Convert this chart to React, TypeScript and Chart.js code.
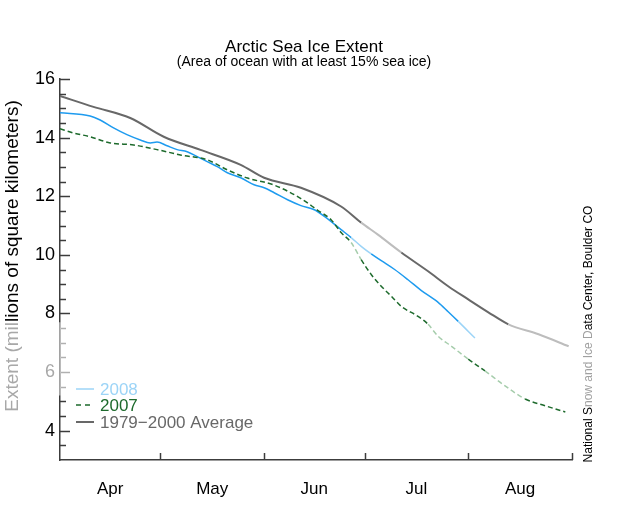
import React, { useEffect, useRef } from 'react';
import { Chart, registerables } from 'chart.js';

Chart.register(...registerables);

// Day index 0 = April 1
const monthNames = ['Apr', 'May', 'Jun', 'Jul', 'Aug'];
const monthStartDays = [0, 30, 61, 91, 122, 153];
const monthMidDays = [15, 45.5, 76, 106.5, 137.5];
const yTickValues = [4, 6, 8, 10, 12, 14, 16];

const avgDays = [0, 10, 21, 31, 42, 54, 61, 72, 84, 90, 95, 102, 110, 116, 122, 128, 134, 143, 152];
const avgValues = [15.42, 15.05, 14.67, 14.03, 13.58, 13.07, 12.63, 12.29, 11.65, 11.1, 10.69, 10.08, 9.44, 8.93, 8.48, 8.04, 7.63, 7.29, 6.88];

const days2008 = [0, 9, 12, 16, 20, 24, 27, 29, 32, 35, 38, 41, 44, 47, 50, 54, 58, 61, 64, 68, 72, 76, 79, 84, 87, 90, 93, 96, 100, 104, 108, 113, 116, 119, 124];
const values2008 = [14.85, 14.74, 14.6, 14.33, 14.1, 13.92, 13.82, 13.85, 13.72, 13.59, 13.52, 13.35, 13.18, 13.01, 12.8, 12.63, 12.39, 12.29, 12.12, 11.88, 11.68, 11.54, 11.31, 10.86, 10.59, 10.29, 10.03, 9.8, 9.5, 9.15, 8.78, 8.38, 8.06, 7.73, 7.16];

const days2007 = [0, 4, 9, 15, 22, 29, 36, 44, 50, 56, 64, 72, 77, 81, 84, 87, 90, 93, 96, 99, 102, 107, 110, 113, 117, 122, 127, 133, 139, 145, 151];
const values2007 = [14.3, 14.16, 14.03, 13.82, 13.75, 13.59, 13.41, 13.24, 12.9, 12.62, 12.38, 11.92, 11.52, 11.2, 10.76, 10.42, 9.84, 9.33, 8.93, 8.59, 8.24, 7.9, 7.63, 7.22, 6.88, 6.44, 6.04, 5.53, 5.08, 4.85, 4.64];

// faded (lighter) stretches of each line, in days
const avgFade = [[90, 102], [134, 200]];
const fade2008 = [[87, 93], [119, 200]];
const fade2007 = [[87, 90], [110, 122], [127, 139]];

const FONT = '"Liberation Sans", Arial, Helvetica, sans-serif';

const GRAY = '#686868';
const GRAY_L = '#bdbdbd';
const BLUE = '#1e9bef';
const BLUE_L = '#9cd4f7';
const GREEN = '#1d6a2c';
const GREEN_L = '#a6cdac';
const AXIS = '#3c3c3c';

const toPts = (d: number[], v: number[]) => d.map((x, i) => ({ x, y: v[i] }));
const faded = (ranges: number[][], dark: string, light: string) => (ctx: any) => {
  const x = ctx.p0.parsed.x;
  return ranges.some(([a, b]) => x >= a && x < b) ? light : dark;
};

const decor = {
  id: 'decor',
  afterDraw(chart: any) {
    const { ctx, chartArea: area } = chart;
    const xs = chart.scales.x;
    const ys = chart.scales.y;
    ctx.save();
    ctx.lineWidth = 1.5;
    // y ticks (inward)
    for (let v = 3.5; v <= 16.001; v += 0.5) {
      const py = Math.round(ys.getPixelForValue(v)) + 0.5;
      const major = Math.abs(v % 2) < 1e-6;
      ctx.strokeStyle = v > 5.2 && v < 7.7 ? '#b0b0b0' : AXIS;
      ctx.beginPath();
      ctx.moveTo(area.left, py);
      ctx.lineTo(area.left + (major ? 10 : 6), py);
      ctx.stroke();
    }
    // light part of y axis
    ctx.strokeStyle = '#c4c4c4';
    ctx.beginPath();
    ctx.moveTo(area.left, ys.getPixelForValue(7.7));
    ctx.lineTo(area.left, ys.getPixelForValue(5.2));
    ctx.stroke();
    // x ticks (inward)
    ctx.strokeStyle = AXIS;
    monthStartDays.slice(1).forEach((d) => {
      const px = Math.round(xs.getPixelForValue(d)) + 0.5;
      ctx.beginPath();
      ctx.moveTo(px, area.bottom);
      ctx.lineTo(px, area.bottom - 7);
      ctx.stroke();
    });

    // titles
    ctx.fillStyle = '#000';
    ctx.textAlign = 'center';
    ctx.textBaseline = 'middle';
    ctx.font = `17px ${FONT}`;
    ctx.fillText('Arctic Sea Ice Extent', 304, 47);
    ctx.font = `14px ${FONT}`;
    ctx.fillText('(Area of ocean with at least 15% sea ice)', 304, 62);

    // rotated, partly faded texts
    const drawParts = (parts: [string, string][], cx: number, cy: number, size: number) => {
      ctx.save();
      ctx.translate(cx, cy);
      ctx.rotate(-Math.PI / 2);
      ctx.font = `${size}px ${FONT}`;
      ctx.textAlign = 'left';
      ctx.textBaseline = 'middle';
      const total = parts.reduce((s, p) => s + ctx.measureText(p[0]).width, 0);
      let x0 = -total / 2;
      parts.forEach(([t, c]) => {
        ctx.fillStyle = c;
        ctx.fillText(t, x0, 0);
        x0 += ctx.measureText(t).width;
      });
      ctx.restore();
    };
    drawParts([['Extent (mil', '#a8a8a8'], ['lions of square kilometers)', '#000']], 13, 256, 19);
    drawParts([['National S', '#000'], ['now and Ice D', '#a0a0a0'], ['ata Center, Boulder CO', '#000']], 589, 334, 12);

    // legend
    const legend: [string, string, number[] | null, number][] = [
      ['2008', BLUE_L, null, 389],
      ['2007', GREEN, [5, 4], 405],
      ['1979\u22122000 Average', GRAY, null, 422],
    ];
    ctx.font = `17px ${FONT}`;
    ctx.textAlign = 'left';
    ctx.textBaseline = 'middle';
    legend.forEach(([label, color, dash, yy]) => {
      ctx.strokeStyle = color;
      ctx.lineWidth = label.startsWith('1979') ? 2 : 1.5;
      ctx.setLineDash(dash || []);
      ctx.beginPath();
      ctx.moveTo(76, yy);
      ctx.lineTo(94, yy);
      ctx.stroke();
      ctx.setLineDash([]);
      ctx.fillStyle = color;
      ctx.fillText(label, 100, yy + 1);
    });
    ctx.restore();
  },
};

export default function App() {
  const ref = useRef<HTMLCanvasElement | null>(null);
  useEffect(() => {
    if (!ref.current) return;
    const chart = new Chart(ref.current, {
      type: 'line',
      data: {
        datasets: [
          {
            label: '1979-2000 Average',
            data: toPts(avgDays, avgValues),
            borderColor: GRAY,
            borderWidth: 2,
            pointRadius: 0,
            cubicInterpolationMode: 'monotone',
            segment: { borderColor: faded(avgFade, GRAY, GRAY_L) },
          },
          {
            label: '2007',
            data: toPts(days2007, values2007),
            borderColor: GREEN,
            borderWidth: 1.5,
            borderDash: [5, 3],
            pointRadius: 0,
            cubicInterpolationMode: 'monotone',
            segment: { borderColor: faded(fade2007, GREEN, GREEN_L) },
          },
          {
            label: '2008',
            data: toPts(days2008, values2008),
            borderColor: BLUE,
            borderWidth: 1.5,
            pointRadius: 0,
            cubicInterpolationMode: 'monotone',
            segment: { borderColor: faded(fade2008, BLUE, BLUE_L) },
          },
        ],
      },
      options: {
        animation: false,
        responsive: false,
        layout: { padding: { top: 79, right: 68, left: 0, bottom: 0 } },
        plugins: { legend: { display: false }, tooltip: { enabled: false }, title: { display: false } },
        scales: {
          x: {
            type: 'linear',
            min: 0,
            max: 153,
            grid: { display: false, drawTicks: false },
            border: { display: true, color: AXIS, width: 1.5 },
            afterBuildTicks: (s: any) => {
              s.ticks = monthMidDays.map((v) => ({ value: v }));
            },
            afterFit: (s: any) => {
              s.height = 52;
            },
            ticks: {
              autoSkip: false,
              maxRotation: 0,
              padding: 19,
              color: '#000',
              font: { family: FONT, size: 17 },
              callback: (_v: any, i: number) => monthNames[i],
            },
          },
          y: {
            type: 'linear',
            min: 3,
            max: 16,
            grid: { display: false, drawTicks: false },
            border: { display: true, color: AXIS, width: 1.5 },
            afterBuildTicks: (s: any) => {
              s.ticks = yTickValues.map((v) => ({ value: v }));
            },
            afterFit: (s: any) => {
              s.width = 60;
            },
            ticks: {
              padding: 5,
              font: { family: FONT, size: 18 },
              color: (c: any) => (c.tick && c.tick.value === 6 ? '#a8a8a8' : '#000'),
              callback: (v: any) => String(v),
            },
          },
        },
      },
      plugins: [decor],
    });
    return () => chart.destroy();
  }, []);
  return (
    <div style={{ position: 'fixed', left: 0, top: 0, width: 640, height: 512, background: '#fff' }}>
      <canvas ref={ref} width={640} height={512} />
    </div>
  );
}
